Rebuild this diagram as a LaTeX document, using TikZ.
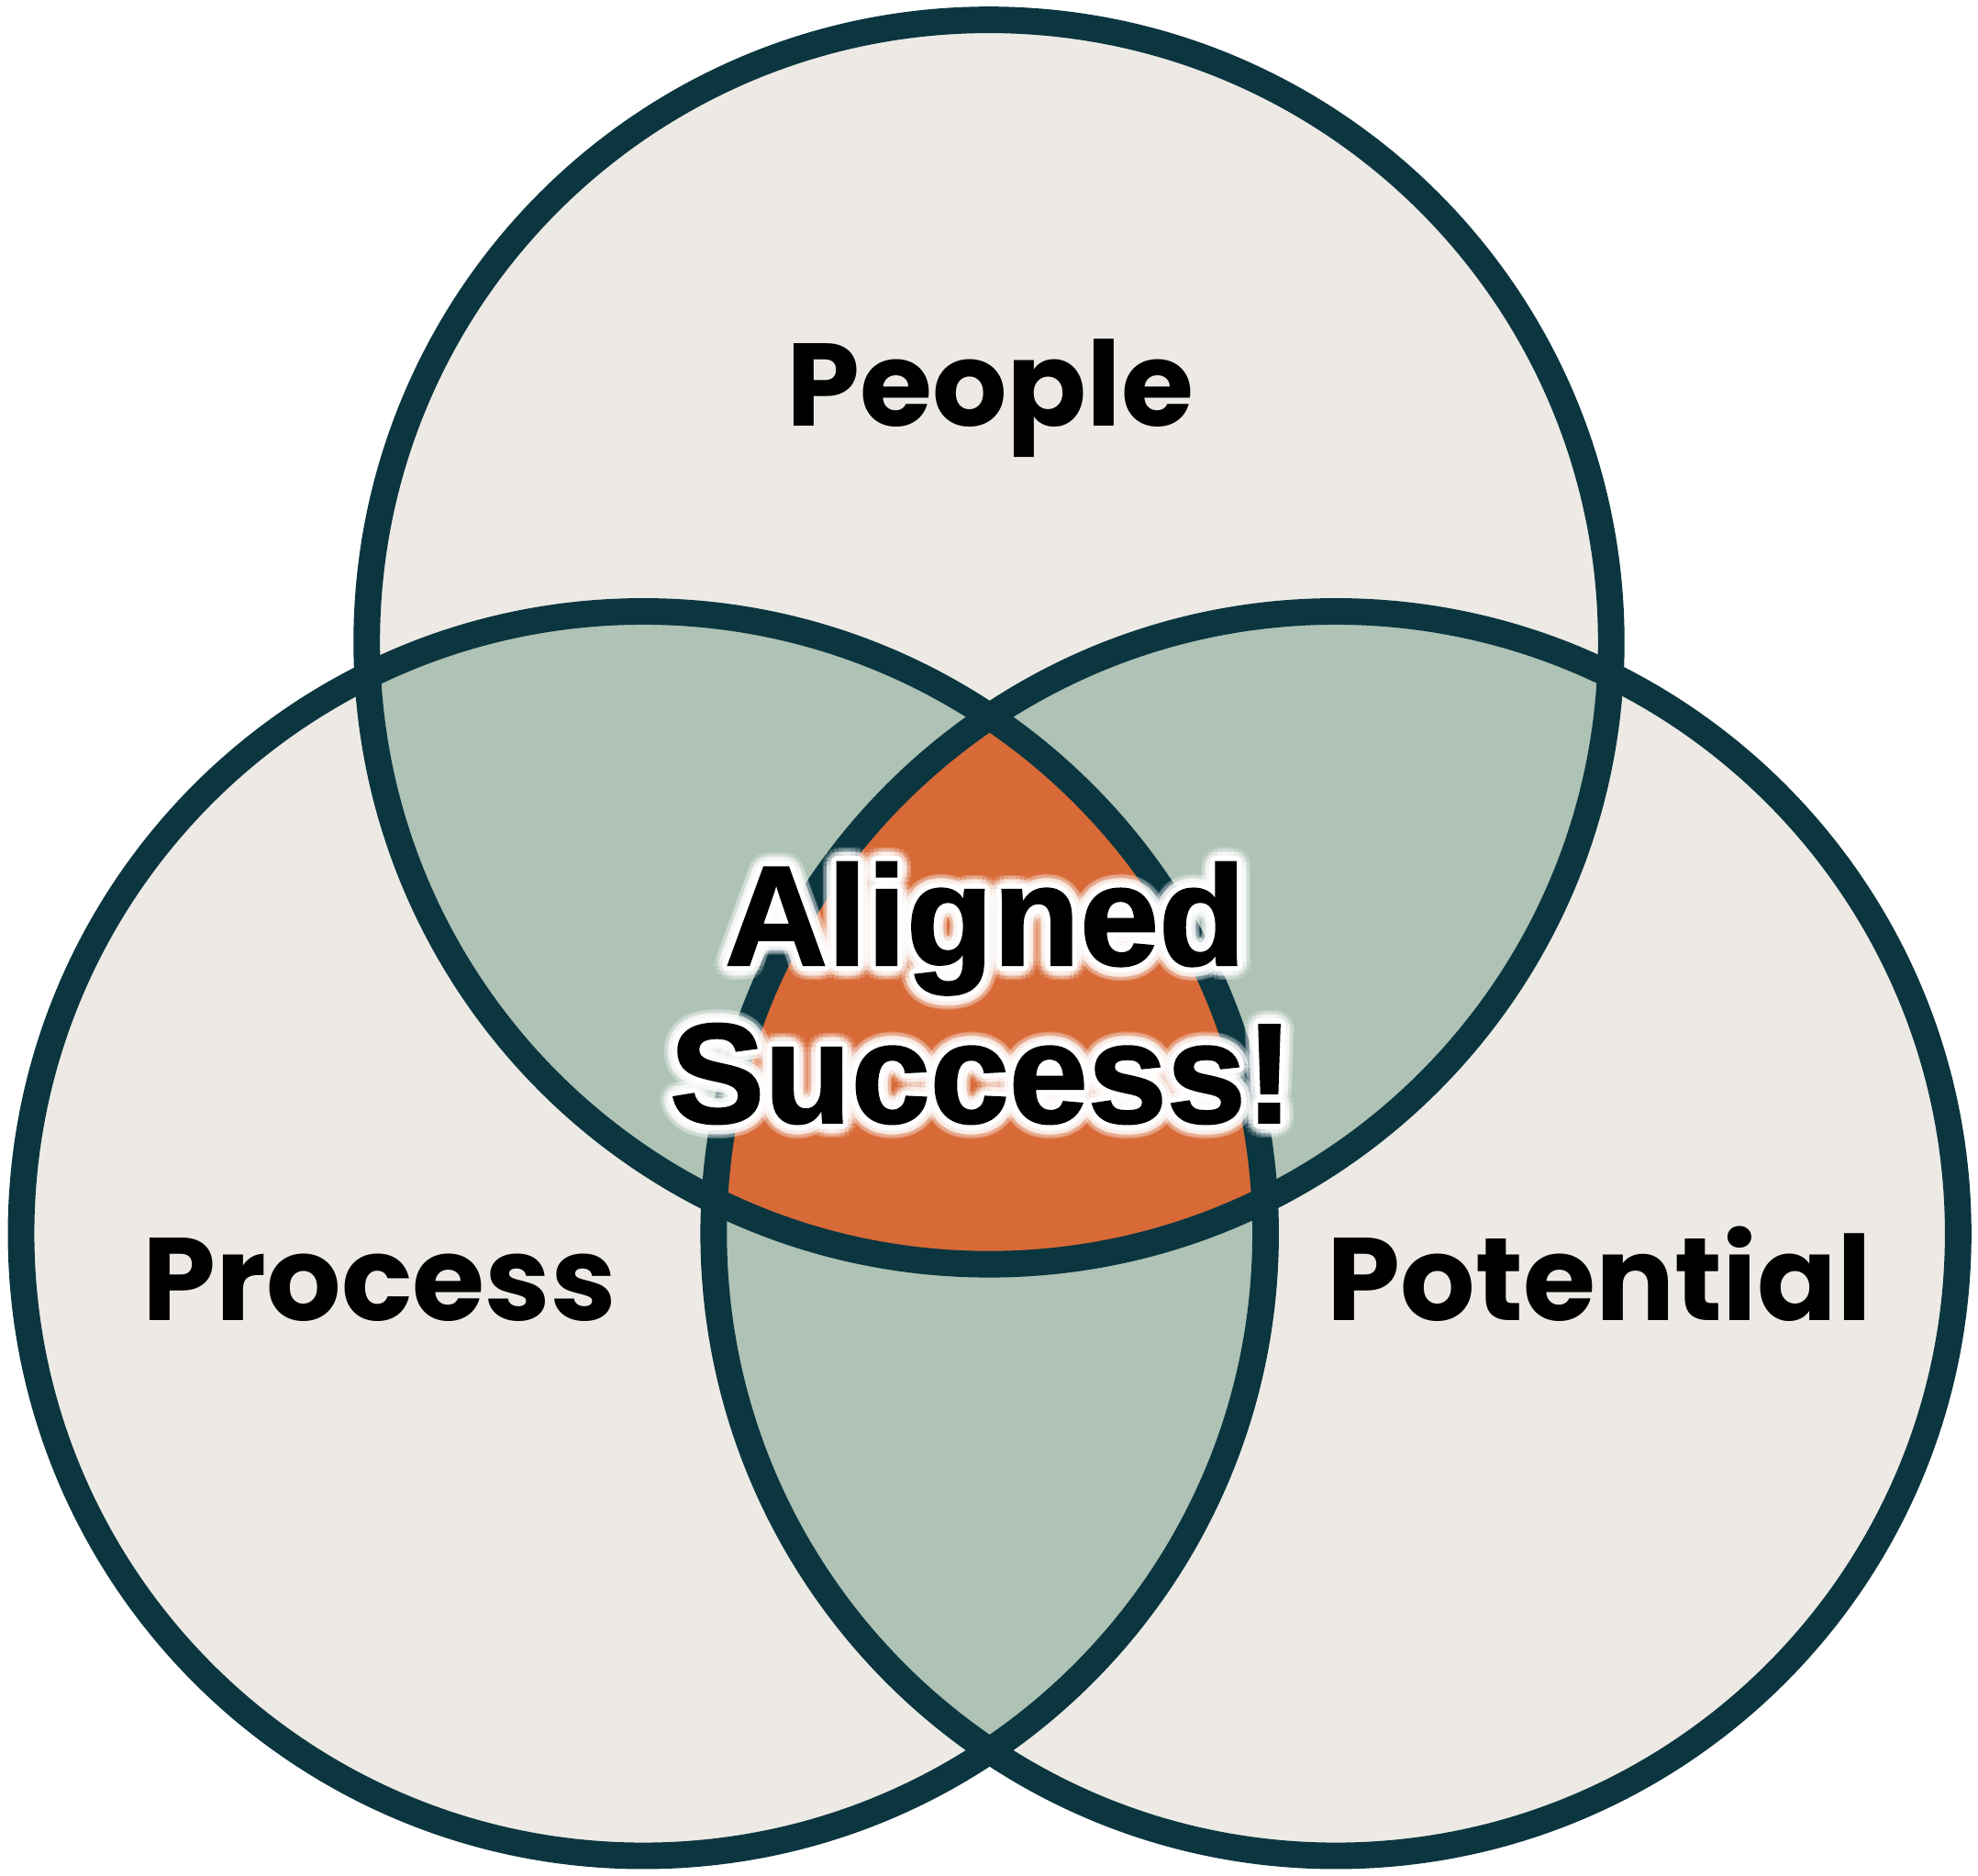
\documentclass[tikz,border=0pt]{standalone}
\usepackage{fontspec}
\setmainfont{Poppins}
\newfontfamily\heavy[BoldFeatures={FakeBold=1.5}]{Liberation Sans}
\usetikzlibrary{calc}
\definecolor{ink}{HTML}{0B3640}
\definecolor{sand}{HTML}{EDEAE5}
\definecolor{sage}{HTML}{AEC2B5}
\definecolor{rust}{HTML}{D86A37}

\begin{document}
\begin{tikzpicture}[x=0.01cm, y=-0.01cm,
    ring/.style={draw=ink, line width=0.21cm},
    tag/.style={font=\fontsize{26.5}{30}\selectfont\bfseries, text=black, anchor=base, inner sep=0pt},
    hero/.style={font=\heavy\fontsize{32}{36}\selectfont\bfseries, anchor=base, inner sep=0pt}]
    \useasboundingbox (0,0) rectangle (1568,1487);
    \coordinate (top) at (784,509);
    \coordinate (lft) at (510,978);
    \coordinate (rgt) at (1059,978);
    \def\rad{4.93cm}
    % discs
    \foreach \c in {top,lft,rgt}
        \fill[sand] (\c) circle (\rad);
    % two-way overlaps
    \begin{scope}
        \clip (top) circle (\rad);
        \fill[sage] (lft) circle (\rad);
        \fill[sage] (rgt) circle (\rad);
    \end{scope}
    \begin{scope}
        \clip (lft) circle (\rad);
        \fill[sage] (rgt) circle (\rad);
    \end{scope}
    % centre
    \begin{scope}
        \clip (top) circle (\rad);
        \clip (lft) circle (\rad);
        \fill[rust] (rgt) circle (\rad);
    \end{scope}
    % rings
    \foreach \c in {top,lft,rgt}
        \draw[ring] (\c) circle (\rad);
    % labels
    \node[tag] (people) at (785,338) {People};
    \node[tag] (process) at (301,1047) {Process};
    \node[tag] (potential) at (1268,1047) {Potential};
    % glow and outline
    \foreach \w/\o in {11/0.12, 8/0.25, 4/1} {
        \foreach \a in {0,20,...,340} {
            \node[hero, text=white, opacity=\o] at ($(781,765)+(\a:\w)$) {Aligned};
            \node[hero, text=white, opacity=\o] at ($(778,890)+(\a:\w)$) {Success!};
        }
    }
    \node[hero, text=black] (aligned) at (781,765) {Aligned};
    \node[hero, text=black] (success) at (778,890) {Success!};
\end{tikzpicture}
\end{document}
